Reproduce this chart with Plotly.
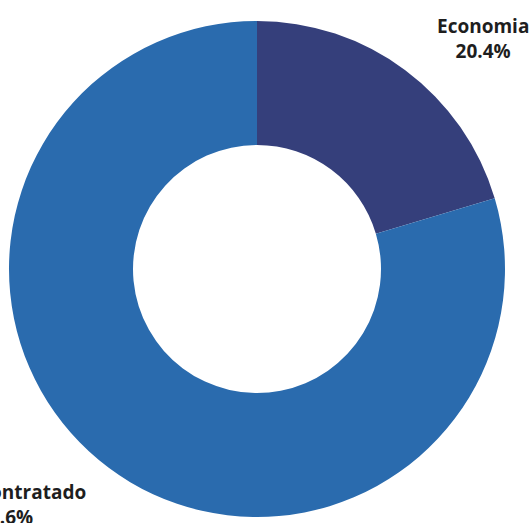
import plotly.graph_objects as go

labels = ["Economia", "Contratado"]
values = [20.4, 79.6]
colors = ["#353f7b", "#2a6bae"]

W, H = 532, 523
cx, cy, r = 257, 269, 248

fig = go.Figure(go.Pie(
    labels=labels,
    values=values,
    hole=0.5,
    sort=False,
    direction="clockwise",
    rotation=0,
    marker=dict(colors=colors, line=dict(width=0)),
    textinfo="none",
    hoverinfo="label+percent",
    domain=dict(x=[(cx - r) / W, (cx + r) / W],
                y=[(H - cy - r) / H, (H - cy + r) / H]),
))

font = dict(family="Open Sans", size=19, color="#1e1e1e")
label_pos = [
    dict(x=483 / W, y=1 - 11 / H, xanchor="center", align="center"),
    dict(x=-24 / W, y=1 - 477 / H, xanchor="left", align="left"),
]
for lab, val, pos in zip(labels, values, label_pos):
    fig.add_annotation(
        text=f"<b>{lab}</b><br><b>{val:.1f}%</b>",
        xref="paper", yref="paper", showarrow=False,
        yanchor="top", font=font, **pos,
    )

fig.update_layout(
    width=W, height=H,
    margin=dict(l=0, r=0, t=0, b=0),
    paper_bgcolor="white",
    showlegend=False,
)
fig.write_html("out.html",
               config={"displayModeBar": False},
               post_script="document.body.style.margin='0';document.body.style.overflow='hidden';")
